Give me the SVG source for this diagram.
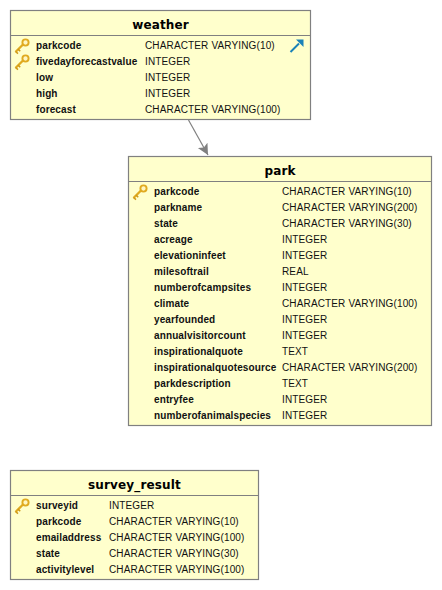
<svg xmlns="http://www.w3.org/2000/svg" width="442" height="590" viewBox="0 0 442 590">
<style>
.box{fill:#ffffcc;stroke:#808080;stroke-width:1.2}
.sep{stroke:#808080;stroke-width:1.2;fill:none}
text{font-family:"Liberation Sans",Arial,sans-serif;font-size:10px;letter-spacing:.14px;fill:#111}
.t{font-family:"DejaVu Sans",sans-serif;font-size:12px;letter-spacing:.15px;font-weight:bold;text-anchor:middle;fill:#000}
.n{font-weight:bold;letter-spacing:.12px}
.c{stroke:#808080;stroke-width:1.2;fill:none}
</style>
<defs>
<marker id="ah" markerUnits="userSpaceOnUse" markerWidth="13" markerHeight="13" refX="11" refY="6" orient="auto"><path d="M0 0.500L11 6L0 11.500L2.500 6Z" fill="#808080"/></marker>
<g id="key"><path d="M1.500 14L10 5.500" stroke="#e0aa20" stroke-width="2.300" fill="none"/><path d="M1.500 13.500l2.500 2.200M4 11l2.200 2.200" stroke="#cf9a18" stroke-width="1.600" fill="none"/><circle cx="11.500" cy="4.500" r="3.100" fill="#fff6c0" stroke="#e0aa20" stroke-width="1.900"/></g>
</defs>
<g id="connectors"><path class="c" d="M188.500 120L208 155" marker-end="url(#ah)"/></g>
<g id="weather">
<rect class="box" x="10.500" y="10.500" width="300" height="109"/>
<path class="sep" d="M10.500 35.500H310.500"/>
<text class="t" x="160.500" y="29">weather</text>
<use href="#key" x="14" y="38"/><use href="#key" x="14" y="54"/>
<path d="M290.500 52L299 43.500" stroke="#1a82b8" stroke-width="2" fill="none"/><path d="M296 39.500H303.500V47Z" fill="#1a82b8"/>
<text class="n" x="36" y="49">parkcode</text><text x="145" y="49">CHARACTER VARYING(10)</text>
<text class="n" x="36" y="65">fivedayforecastvalue</text><text x="145" y="65">INTEGER</text>
<text class="n" x="36" y="81">low</text><text x="145" y="81">INTEGER</text>
<text class="n" x="36" y="97">high</text><text x="145" y="97">INTEGER</text>
<text class="n" x="36" y="113">forecast</text><text x="145" y="113">CHARACTER VARYING(100)</text>
</g>
<g id="park">
<rect class="box" x="128.500" y="156.500" width="303" height="269"/>
<path class="sep" d="M128.500 181.500H431.500"/>
<text class="t" x="280" y="175">park</text>
<use href="#key" x="132" y="184"/>
<text class="n" x="154" y="195">parkcode</text><text x="282" y="195">CHARACTER VARYING(10)</text>
<text class="n" x="154" y="211">parkname</text><text x="282" y="211">CHARACTER VARYING(200)</text>
<text class="n" x="154" y="227">state</text><text x="282" y="227">CHARACTER VARYING(30)</text>
<text class="n" x="154" y="243">acreage</text><text x="282" y="243">INTEGER</text>
<text class="n" x="154" y="259">elevationinfeet</text><text x="282" y="259">INTEGER</text>
<text class="n" x="154" y="275">milesoftrail</text><text x="282" y="275">REAL</text>
<text class="n" x="154" y="291">numberofcampsites</text><text x="282" y="291">INTEGER</text>
<text class="n" x="154" y="307">climate</text><text x="282" y="307">CHARACTER VARYING(100)</text>
<text class="n" x="154" y="323">yearfounded</text><text x="282" y="323">INTEGER</text>
<text class="n" x="154" y="339">annualvisitorcount</text><text x="282" y="339">INTEGER</text>
<text class="n" x="154" y="355">inspirationalquote</text><text x="282" y="355">TEXT</text>
<text class="n" x="154" y="371">inspirationalquotesource</text><text x="282" y="371">CHARACTER VARYING(200)</text>
<text class="n" x="154" y="387">parkdescription</text><text x="282" y="387">TEXT</text>
<text class="n" x="154" y="403">entryfee</text><text x="282" y="403">INTEGER</text>
<text class="n" x="154" y="419">numberofanimalspecies</text><text x="282" y="419">INTEGER</text>
</g>
<g id="survey_result">
<rect class="box" x="10.500" y="470.500" width="248" height="109"/>
<path class="sep" d="M10.500 495.500H258.500"/>
<text class="t" x="134.500" y="489">survey_result</text>
<use href="#key" x="14" y="498"/>
<text class="n" x="36" y="509">surveyid</text><text x="109" y="509">INTEGER</text>
<text class="n" x="36" y="525">parkcode</text><text x="109" y="525">CHARACTER VARYING(10)</text>
<text class="n" x="36" y="541">emailaddress</text><text x="109" y="541">CHARACTER VARYING(100)</text>
<text class="n" x="36" y="557">state</text><text x="109" y="557">CHARACTER VARYING(30)</text>
<text class="n" x="36" y="573">activitylevel</text><text x="109" y="573">CHARACTER VARYING(100)</text>
</g>
</svg>
